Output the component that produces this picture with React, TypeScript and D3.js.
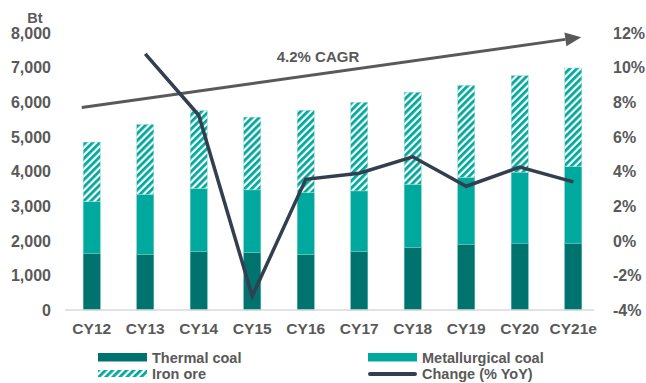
import React from "react";
import * as d3 from "d3";

const categories = ["CY12", "CY13", "CY14", "CY15", "CY16", "CY17", "CY18", "CY19", "CY20", "CY21e"];
const thermalCoal = [1640, 1610, 1690, 1660, 1600, 1690, 1810, 1900, 1930, 1930];
const metallurgicalCoal = [1490, 1730, 1820, 1810, 1790, 1750, 1820, 1930, 2050, 2210];
const ironOre = [1720, 2020, 2250, 2100, 2380, 2560, 2660, 2660, 2790, 2850];
const changeYoY: (number | null)[] = [null, 10.8, 7.25, -3.2, 3.55, 3.9, 4.85, 3.15, 4.25, 3.4];
const leftTicks = [0, 1000, 2000, 3000, 4000, 5000, 6000, 7000, 8000];
const rightTicks = [-4, -2, 0, 2, 4, 6, 8, 10, 12];
const cagrLabel = "4.2% CAGR";
const cagrStartValue = 5850;
const cagrEndValue = 7880;

const W = 646;
const H = 383;
const FONT = "'Liberation Sans', Arial, sans-serif";
const GRAY = "#595959";
const C_THERMAL = "#00736F";
const C_MET = "#00A99D";
const C_LINE = "#333F50";

export default function App() {
  const x = d3.scaleBand<string>().domain(categories).range([65, 600]).paddingInner(0.68).paddingOuter(0.34);
  const yL = d3.scaleLinear().domain([0, 8000]).range([310, 33]);
  const yR = d3.scaleLinear().domain([-4, 12]).range([310, 33]);
  const bw = x.bandwidth();
  const cx = (c: string) => (x(c) as number) + bw / 2;

  const lineData = categories.map((c, i) => ({ c, v: changeYoY[i] })).filter((d) => d.v !== null) as { c: string; v: number }[];
  const line = d3.line<{ c: string; v: number }>().x((d) => cx(d.c)).y((d) => yR(d.v));

  const ax0 = cx(categories[0]) - 10;
  const ay0 = yL(cagrStartValue);
  const ax1 = cx(categories[categories.length - 1]) + 8;
  const ay1 = yL(cagrEndValue);
  const ang = Math.atan2(ay1 - ay0, ax1 - ax0);
  const headLen = 16;
  const headHalf = 7;
  const bx = ax1 - headLen * Math.cos(ang);
  const by = ay1 - headLen * Math.sin(ang);
  const px = -Math.sin(ang);
  const py = Math.cos(ang);
  const head = `M${ax1},${ay1}L${bx + px * headHalf},${by + py * headHalf}L${bx - px * headHalf},${by - py * headHalf}Z`;

  return (
    <svg width={W} height={H} style={{ position: "absolute", left: 0, top: 0 }} fontFamily={FONT}>
      <defs>
        <pattern id="hatch" patternUnits="userSpaceOnUse" width={5} height={5} patternTransform="rotate(45)">
          <rect width={5} height={5} fill="#ffffff" />
          <rect width={2.8} height={5} fill={C_MET} />
        </pattern>
      </defs>
      <rect width={W} height={H} fill="#ffffff" />

      {/* bars */}
      {categories.map((c, i) => {
        const x0 = x(c) as number;
        const t = thermalCoal[i];
        const m = metallurgicalCoal[i];
        const o = ironOre[i];
        return (
          <g key={c}>
            <rect x={x0} y={yL(t)} width={bw} height={yL(0) - yL(t)} fill={C_THERMAL} stroke="#5fb8b3" strokeWidth={0.5} />
            <rect x={x0} y={yL(t + m)} width={bw} height={yL(t) - yL(t + m)} fill={C_MET} stroke="#7fd0ca" strokeWidth={0.5} />
            <rect x={x0} y={yL(t + m + o)} width={bw} height={yL(t + m) - yL(t + m + o)} fill="url(#hatch)" stroke="#9fdcd7" strokeWidth={0.5} />
          </g>
        );
      })}

      {/* baseline */}
      <line x1={65} x2={594} y1={yL(0)} y2={yL(0)} stroke="#d9d9d9" strokeWidth={1.5} />

      {/* CAGR arrow */}
      <line x1={ax0} y1={ay0} x2={bx} y2={by} stroke={GRAY} strokeWidth={3} />
      <path d={head} fill={GRAY} />
      <text x={318} y={62} textAnchor="middle" fontSize={15} fontWeight="bold" fill={GRAY}>{cagrLabel}</text>

      {/* change line */}
      <path d={line(lineData) || ""} fill="none" stroke={C_LINE} strokeWidth={3.5} strokeLinejoin="miter" />

      {/* left axis */}
      <text x={35} y={18} dy="0.36em" textAnchor="middle" fontSize={14.5} fontWeight="bold" fill={GRAY}>Bt</text>
      {leftTicks.map((t) => (
        <text key={t} x={51} y={yL(t)} dy="0.36em" textAnchor="end" fontSize={16} fontWeight="bold" fill={GRAY}>
          {d3.format(",")(t)}
        </text>
      ))}

      {/* right axis */}
      {rightTicks.map((t) => (
        <text key={t} x={613} y={yR(t)} dy="0.36em" textAnchor="start" fontSize={16} fontWeight="bold" fill={GRAY}>
          {t}%
        </text>
      ))}

      {/* x axis labels */}
      {categories.map((c) => (
        <text key={c} x={cx(c)} y={328} dy="0.36em" textAnchor="middle" fontSize={15.5} fontWeight="bold" fill={GRAY}>
          {c}
        </text>
      ))}

      {/* legend */}
      <g fontSize={14.5} fontWeight="bold" fill={GRAY}>
        <rect x={98} y={353} width={49} height={8.5} fill={C_THERMAL} />
        <text x={152} y={357.5} dy="0.36em">Thermal coal</text>
        <rect x={368} y={353} width={49} height={8.5} fill={C_MET} />
        <text x={422} y={357.5} dy="0.36em">Metallurgical coal</text>
        <rect x={98} y={370} width={49} height={7} fill="url(#hatch)" />
        <text x={152} y={374} dy="0.36em">Iron ore</text>
        <line x1={370} x2={415} y1={374} y2={374} stroke={C_LINE} strokeWidth={4} strokeLinecap="round" />
        <text x={422} y={374} dy="0.36em">Change (% YoY)</text>
      </g>
    </svg>
  );
}
